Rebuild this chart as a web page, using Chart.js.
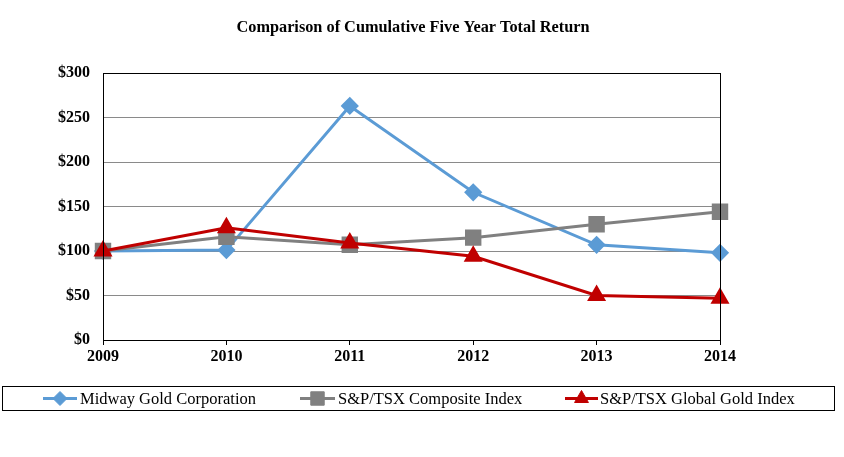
<!DOCTYPE html>
<html lang="en">
<head>
<meta charset="UTF-8">
<title>Comparison of Cumulative Five Year Total Return</title>
<script src="https://cdn.jsdelivr.net/npm/chart.js"></script>
<style>
    html, body { margin: 0; padding: 0; background: #fff; }
    #wrap { width: 844px; height: 457px; position: relative; }
</style>
</head>
<body>
<div id="wrap"><canvas id="returnChart"></canvas></div>
<script>
const years = ['2009', '2010', '2011', '2012', '2013', '2014'];
const midwayGold = [100, 101, 263, 166, 107, 98];
const tsxComposite = [100, 116, 107, 115, 130, 144];
const tsxGlobalGold = [100, 126, 109, 94, 50, 47];
const yTicks = [0, 50, 100, 150, 200, 250, 300];

const serif = '"Liberation Serif", "Times New Roman", serif';

// title, plot border and boxed legend
const decorPlugin = {
    id: 'decor',
    afterDraw(chart) {
        const ctx = chart.ctx;
        const area = chart.chartArea;
        ctx.save();
        ctx.fillStyle = '#000';
        ctx.font = 'bold 16.3px ' + serif;
        ctx.textAlign = 'center';
        ctx.textBaseline = 'middle';
        ctx.fillText('Comparison of Cumulative Five Year Total Return', 413, 28);

        ctx.strokeStyle = '#000';
        ctx.lineWidth = 1;
        ctx.strokeRect(area.left + 0.5, area.top + 0.5, area.right - area.left, area.bottom - area.top);

        // legend box
        ctx.strokeRect(2.5, 386.5, 832, 24);
        const items = [
            { x1: 43, x2: 77, tx: 80 },
            { x1: 300, x2: 335, tx: 338 },
            { x1: 565, x2: 598, tx: 600 }
        ];
        ctx.font = '16.5px ' + serif;
        ctx.textAlign = 'left';
        chart.data.datasets.forEach((ds, i) => {
            const it = items[i];
            const y = 398.5;
            ctx.strokeStyle = ds.borderColor;
            ctx.lineWidth = 3;
            ctx.beginPath();
            ctx.moveTo(it.x1, y);
            ctx.lineTo(it.x2, y);
            ctx.stroke();
            ctx.fillStyle = ds.pointBackgroundColor;
            ctx.strokeStyle = ds.pointBorderColor;
            ctx.lineWidth = 1;
            Chart.helpers.drawPoint(ctx, { pointStyle: ds.pointStyle, radius: ds.pointRadius, borderWidth: 1 }, (it.x1 + it.x2) / 2, y);
            ctx.fillStyle = '#000';
            ctx.fillText(ds.label, it.tx, y + 1);
        });
        ctx.restore();
    }
};

new Chart(document.getElementById('returnChart'), {
    type: 'line',
    data: {
        labels: years,
        datasets: [
            {
                label: 'Midway Gold Corporation',
                data: midwayGold,
                borderColor: '#5B9BD5',
                pointBackgroundColor: '#5B9BD5',
                pointBorderColor: '#5B9BD5',
                pointStyle: 'rectRot',
                pointRadius: 7,
                borderWidth: 3,
                order: 3
            },
            {
                label: 'S&P/TSX Composite Index',
                data: tsxComposite,
                borderColor: '#808080',
                pointBackgroundColor: '#808080',
                pointBorderColor: '#808080',
                pointStyle: 'rect',
                pointRadius: 9.5,
                borderWidth: 3,
                order: 2
            },
            {
                label: 'S&P/TSX Global Gold Index',
                data: tsxGlobalGold,
                borderColor: '#C00000',
                pointBackgroundColor: '#C00000',
                pointBorderColor: '#C00000',
                pointStyle: 'triangle',
                pointRadius: 8,
                borderWidth: 3,
                order: 1
            }
        ]
    },
    options: {
        responsive: true,
        maintainAspectRatio: false,
        animation: false,
        layout: { padding: { top: 73, right: 124, left: 0, bottom: 0 } },
        plugins: {
            legend: { display: false },
            title: { display: false },
            tooltip: { enabled: false }
        },
        scales: {
            x: {
                offset: false,
                afterFit: (scale) => { scale.height = 117; },
                grid: { drawOnChartArea: false, drawTicks: true, tickLength: 5, color: '#000' },
                border: { color: '#000' },
                ticks: { color: '#000', font: { family: serif, size: 16, weight: 'bold' }, padding: 2, maxRotation: 0 }
            },
            y: {
                min: 0,
                max: 300,
                afterFit: (scale) => { scale.width = 103; },
                afterBuildTicks: (scale) => { scale.ticks = yTicks.map(v => ({ value: v })); },
                grid: { color: '#8A8A8A', drawTicks: false },
                border: { color: '#000' },
                ticks: {
                    color: '#000',
                    padding: 13,
                    font: { family: serif, size: 16, weight: 'bold' },
                    callback: (v) => '$' + v
                }
            }
        }
    },
    plugins: [decorPlugin]
});
</script>
</body>
</html>
